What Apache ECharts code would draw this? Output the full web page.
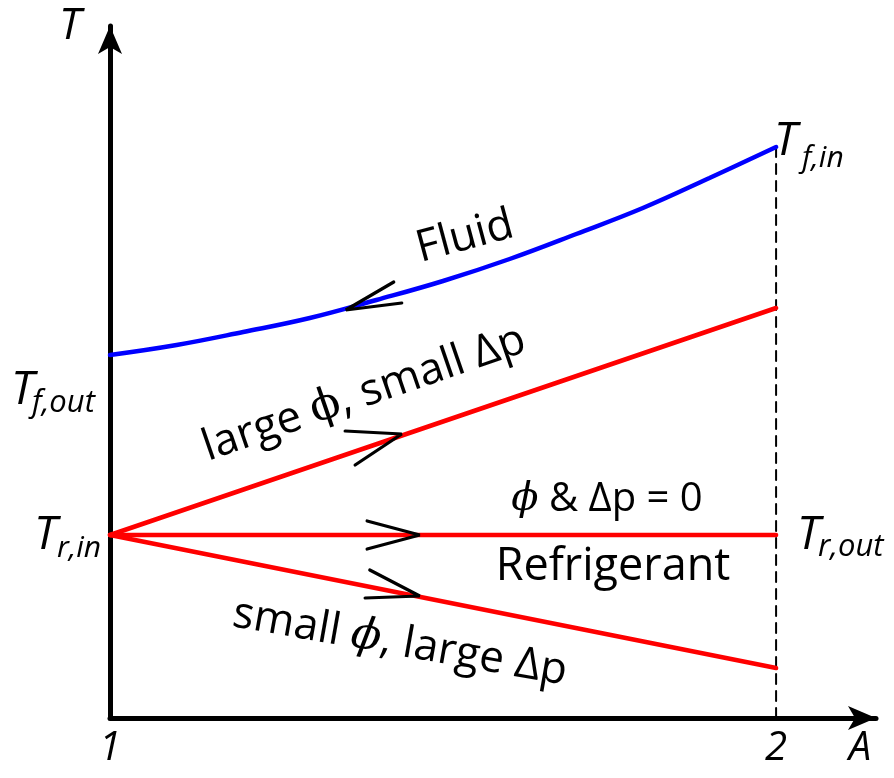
<!DOCTYPE html>
<html><head><meta charset="utf-8">
<script src="https://cdn.jsdelivr.net/npm/echarts@6/dist/echarts.min.js"></script>
<style>html,body{margin:0;padding:0;background:#fff}#c{width:894px;height:778px}</style>
</head><body><div id="c"></div>
<script>
// ---- data (A position 1..2, temperature in arbitrary units) ----
const xTickLabels = [1, 2];
const fluidA = [1.0, 1.1, 1.2, 1.3, 1.4, 1.5, 1.6, 1.7, 1.8, 1.9, 2.0];
const fluidT = [3.63, 3.73, 3.86, 4.00, 4.18, 4.37, 4.59, 4.84, 5.10, 5.40, 5.71];
const refA = [1, 2];
const refLargePhi = [1.83, 4.10];
const refZero = [1.83, 1.83];
const refSmallPhi = [1.83, 0.50];
const outletA = [2, 2];
const outletT = [0, 5.71];
// flow-direction chevrons: [arm, tip, arm]
const arrowFluid = [[1.426, 4.36], [1.354, 4.08], [1.438, 4.15]];
const arrowLarge = [[1.353, 2.87], [1.438, 2.84], [1.368, 2.53]];
const arrowZero  = [[1.386, 1.97], [1.465, 1.83], [1.386, 1.69]];
const arrowSmall = [[1.390, 1.48], [1.465, 1.22], [1.383, 1.20]];

const pair = (xs, ys) => xs.map((x, i) => [x, ys[i]]);
const F = '"Open Sans", "DejaVu Sans", sans-serif';

const chart = echarts.init(document.getElementById('c'), null, {renderer: 'canvas'});

function lineSeries(data, color, width, type, z) {
  return {type: 'line', data, showSymbol: false, symbol: 'none', smooth: false,
    lineStyle: {color, width, type: type || 'solid', cap: 'round'}, z: z || 2, animation: false, silent: true};
}

function txt(text, x, y, font, opts) {
  opts = opts || {};
  return {type: 'text', x, y, rotation: (opts.rot || 0) * Math.PI / 180, silent: true, z: 10,
    style: {text, font, fill: '#000', align: opts.align || 'left', textAlign: opts.align || 'left',
      verticalAlign: 'middle', textVerticalAlign: 'middle', rich: opts.rich}};
}

const phiRich = (size, italic) => ({ph: {fontFamily: '"DejaVu Serif", serif', fontSize: size, fontStyle: italic ? 'italic' : 'normal', fill: '#000', color: '#000'},
  n: {fontFamily: F, fontSize: size, fill: '#000', color: '#000'}});

const option = {
  backgroundColor: '#fff',
  animation: false,
  grid: {left: 110, right: 18, top: 26, bottom: 60, containLabel: false, outerBoundsMode: 'none'},
  xAxis: {
    type: 'value', min: 1, max: 2.15, interval: 1,
    name: 'A', nameLocation: 'end', nameGap: -16,
    nameTextStyle: {fontFamily: F, fontStyle: 'italic', fontSize: 40, color: '#000', align: 'center', verticalAlign: 'top', padding: [11, 0, 0, 0]},
    axisLine: {show: true, symbol: ['none', 'arrow'], symbolSize: [18, 28], lineStyle: {color: '#000', width: 5}},
    axisTick: {show: false}, splitLine: {show: false},
    axisLabel: {formatter: v => xTickLabels.indexOf(v) >= 0 ? String(v) : '', fontFamily: F, fontStyle: 'italic', fontSize: 40, color: '#000', margin: 11}
  },
  yAxis: {
    type: 'value', min: 0, max: 6.92,
    name: 'T', nameLocation: 'end', nameGap: 0,
    nameTextStyle: {fontFamily: F, fontStyle: 'italic', fontSize: 44, color: '#000', align: 'center', verticalAlign: 'middle', padding: [0, 80, 0, 0]},
    axisLine: {show: true, symbol: ['none', 'arrow'], symbolSize: [18, 28], lineStyle: {color: '#000', width: 5}},
    axisTick: {show: false}, splitLine: {show: false}, axisLabel: {show: false}
  },
  series: [
    lineSeries(pair(outletA, outletT), '#000', 2, [10, 7], 1),
    Object.assign(lineSeries(pair(fluidA, fluidT), '#0000FF', 4.5), {smooth: 0.4}),
    lineSeries(pair(refA, refLargePhi), '#FF0000', 4.5),
    lineSeries(pair(refA, refZero), '#FF0000', 4.5),
    lineSeries(pair(refA, refSmallPhi), '#FF0000', 4.5),
    lineSeries(arrowFluid, '#000', 3.2, null, 5),
    lineSeries(arrowLarge, '#000', 3.2, null, 5),
    lineSeries(arrowZero, '#000', 3.2, null, 5),
    lineSeries(arrowSmall, '#000', 3.2, null, 5)
  ],
  graphic: [
    txt('T', 774, 142, 'italic 46px ' + F),
    txt('f,in', 802, 158, 'italic 30px ' + F),
    txt('T', 11, 391, 'italic 46px ' + F),
    txt('f,out', 32, 403, 'italic 31px ' + F),
    txt('T', 34, 536, 'italic 46px ' + F),
    txt('r,in', 57, 548, 'italic 30px ' + F),
    txt('T', 797, 536, 'italic 46px ' + F),
    txt('r,out', 818, 547, 'italic 31px ' + F),
    txt('Fluid', 465, 237, '44px ' + F, {align: 'center', rot: 15}),
    txt('{n|large }{ph|ϕ}{n|, small Δp}', 364, 394, '44px ' + F, {align: 'center', rot: 19, rich: phiRich(44, false)}),
    txt('{ph|ϕ}{n| & Δp = 0}', 607, 500, '40px ' + F, {align: 'center', rich: phiRich(40, true)}),
    txt('Refrigerant', 613, 567, '45px ' + F, {align: 'center'}),
    txt('{n|small }{ph|ϕ}{n|, large Δp}', 400, 643, '44px ' + F, {align: 'center', rot: -10, rich: phiRich(44, true)})
  ]
};
chart.setOption(option);
</script></body></html>
